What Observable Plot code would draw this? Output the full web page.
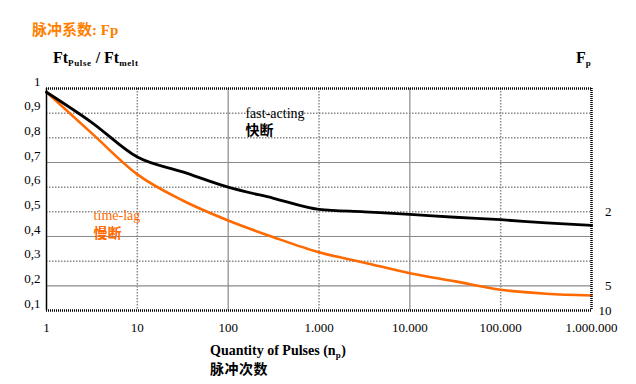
<!DOCTYPE html>
<html>
<head>
<meta charset="utf-8">
<script src="https://cdn.jsdelivr.net/npm/d3@7"></script>
<script src="https://cdn.jsdelivr.net/npm/@observablehq/plot@0.6"></script>
<style>
  body { margin: 0; background: #fff; }
  #wrap { position: relative; width: 636px; height: 384px; overflow: hidden; background: #fff; }
  .hdr { position: relative; height: 72px; }
  .ftr { position: relative; height: 50px; }
  .abs { position: absolute; white-space: nowrap; line-height: 1; }
  .serif { font-family: "Liberation Serif", "Times New Roman", serif; }
  .cjk { font-family: "Noto Sans CJK SC", sans-serif; font-weight: bold; }
  .sb { font-size: 9px; vertical-align: baseline; position: relative; top: 3px; letter-spacing: 0.6px; }
  svg { display: block; }
</style>
</head>
<body>
<div id="wrap">
  <div class="hdr">
    <div class="abs" style="left:32px; top:21px; font-size:15px; font-weight:bold; color:#ff8000;"><span class="cjk">脉冲系数</span><span class="serif">: Fp</span></div>
    <div class="abs serif" style="left:53px; top:50px; font-size:16px; font-weight:bold;">Ft<span class="sb">Pulse</span> / Ft<span class="sb">melt</span></div>
    <div class="abs serif" style="left:576px; top:50px; font-size:16px; font-weight:bold;">F<span class="sb">p</span></div>
  </div>
  <div id="chart"></div>
  <div class="ftr">
    <div class="abs serif" style="left:210px; top:10px; font-size:14px; font-weight:bold;">Quantity of Pulses (n<span class="sb">p</span>)</div>
    <div class="abs cjk" style="left:210px; top:27px; font-size:14px; letter-spacing:0.5px;">脉冲次数</div>
  </div>
</div>
<script>
// ---- data ----
const pulses      = [1, 3.16, 10, 31.6, 100, 316, 1000, 3162, 10000, 31623, 100000, 316228, 1000000];
const fastActing  = [0.985, 0.862, 0.722, 0.662, 0.60, 0.555, 0.51, 0.50, 0.49, 0.478, 0.468, 0.455, 0.445];
const timeLag     = [0.985, 0.818, 0.652, 0.546, 0.465, 0.397, 0.336, 0.294, 0.251, 0.218, 0.184, 0.168, 0.161];

const xTicks      = [1, 10, 100, 1000, 10000, 100000, 1000000];
const xTickLabels = ["1", "10", "100", "1.000", "10.000", "100.000", "1.000.000"];
const yTicks      = [1, 0.9, 0.8, 0.7, 0.6, 0.5, 0.4, 0.3, 0.2, 0.1];
const yTickLabels = ["1", "0,9", "0,8", "0,7", "0,6", "0,5", "0,4", "0,3", "0,2", "0,1"];
const fpTicks     = [2, 5, 10];

const xSolidGrid  = [100, 10000];
const xDottedGrid = [10, 1000, 100000];
const ySolidGrid  = [0.7, 0.4, 0.2];
const yDottedGrid = [0.9, 0.8, 0.6, 0.5, 0.3];

const annotations = [
  {x: 155, y: 0.898, text: "fast-acting", color: "#000", cjk: false},
  {x: 155, y: 0.828, text: "快断", color: "#000", cjk: true},
  {x: 3.3, y: 0.486, text: "time-lag", color: "#ff6a00", cjk: false},
  {x: 3.3, y: 0.414, text: "慢断", color: "#ff6a00", cjk: true}
];

const rows = [];
pulses.forEach((p, i) => {
  rows.push({n: p, v: fastActing[i], s: "fast"});
  rows.push({n: p, v: timeLag[i], s: "lag"});
});

const serif = "'Liberation Serif', 'Times New Roman', serif";
const cjk = "'Noto Sans CJK SC', sans-serif";

const chart = Plot.plot({
  width: 636,
  height: 262,
  marginTop: 16,
  marginBottom: 24,
  marginLeft: 46,
  marginRight: 45,
  x: {type: "log", domain: [1, 1e6]},
  y: {type: "linear", domain: [0.1, 1]},
  style: {fontFamily: serif, fontSize: "13px", background: "white", color: "#000"},
  marks: [
    Plot.ruleX(xSolidGrid, {stroke: "#8a8a8a", strokeWidth: 1.2}),
    Plot.ruleX(xDottedGrid, {stroke: "#8a8a8a", strokeWidth: 1.5, strokeDasharray: "1.5,1.5"}),
    Plot.ruleY(ySolidGrid, {stroke: "#8a8a8a", strokeWidth: 1.2}),
    Plot.ruleY(yDottedGrid, {stroke: "#8a8a8a", strokeWidth: 1.5, strokeDasharray: "1.5,1.5"}),
    Plot.line(rows.filter(d => d.s === "lag"), {x: "n", y: "v", stroke: "#ff6a00", strokeWidth: 2.6, curve: "monotone-x"}),
    Plot.line(rows.filter(d => d.s === "fast"), {x: "n", y: "v", stroke: "#000", strokeWidth: 2.8, curve: "monotone-x"}),
    Plot.ruleY([1, 0.1], {stroke: "#000", strokeWidth: 2.5, strokeDasharray: "1,1"}),
    Plot.ruleX([1e6], {stroke: "#000", strokeWidth: 2.5, strokeDasharray: "1,1"}),
    Plot.ruleX([1], {stroke: "#000", strokeWidth: 1.5}),
    Plot.axisX({ticks: xTicks, tickFormat: d => xTickLabels[xTicks.indexOf(d)], tickSize: 0, tickPadding: 12, label: null, fontSize: 13, fontFamily: serif}),
    Plot.axisY({ticks: yTicks, tickFormat: d => yTickLabels[yTicks.indexOf(d)], tickSize: 0, tickPadding: 6, dy: -7, label: null, fontSize: 13, fontFamily: serif}),
    Plot.text(fpTicks, {y: d => 1 / d, text: d => String(d), frameAnchor: "right", dx: 20, textAnchor: "end", fontSize: 13, fontFamily: serif}),
    Plot.text(annotations.filter(d => !d.cjk), {x: "x", y: "y", text: "text", fill: "color", textAnchor: "start", fontSize: 14, fontFamily: serif, letterSpacing: "0.5px"}),
    Plot.text(annotations.filter(d => d.cjk), {x: "x", y: "y", text: "text", fill: "color", textAnchor: "start", fontSize: 14, fontWeight: "bold", fontFamily: cjk})
  ]
});
document.getElementById("chart").appendChild(chart);
</script>
</body>
</html>
